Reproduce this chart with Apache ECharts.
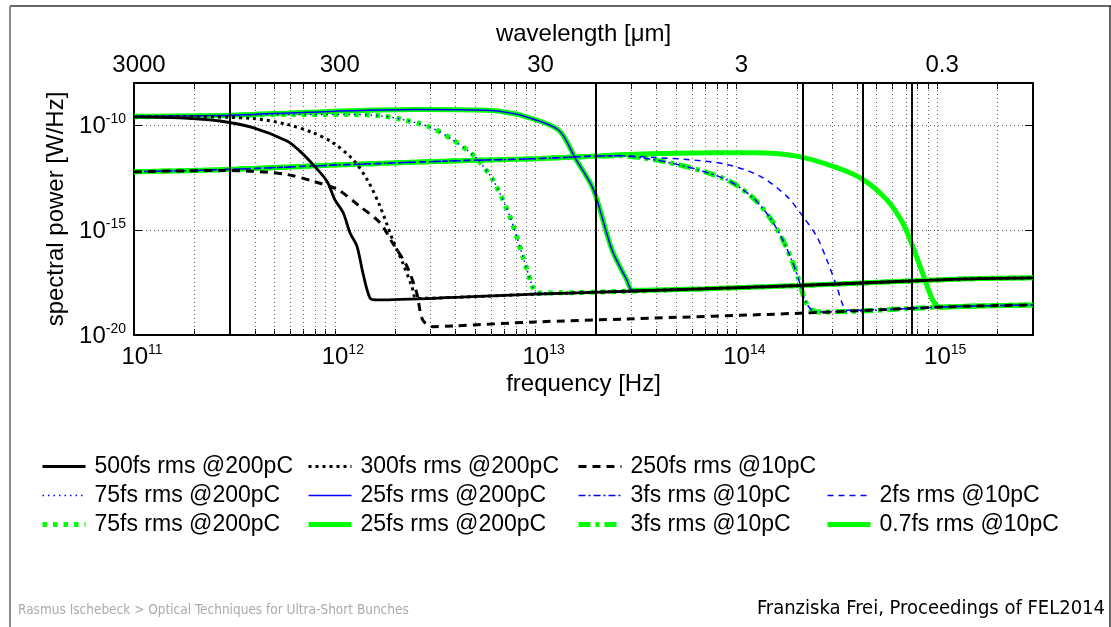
<!DOCTYPE html>
<html>
<head>
<meta charset="utf-8">
<title>spectral power</title>
<script src="https://cdn.jsdelivr.net/npm/echarts@6.0.0/dist/echarts.min.js"></script>
<style>
    html, body { margin: 0; padding: 0; background: #fff; }
    #main { width: 1111px; height: 627px; }
</style>
</head>
<body>
<div id="main"></div>
<script>
// frequency [Hz] , spectral power [W/Hz]
var floor200 = [[1.62e12, 4.7e-19], [4.2e12, 6.3e-19], [1e13, 8.8e-19], [2.62e13, 1.18e-18], [2.07e14, 2.27e-18], [1.29e15, 4.6e-18], [3e15, 5.3e-18]];
var floor10 = [[3.08e12, 2.5e-20], [3.87e12, 2.7e-20], [1e13, 4.2e-20], [2.84e13, 5.8e-20], [2.07e14, 1.09e-19], [1.19e15, 2.24e-19], [3e15, 2.7e-19]];
var common10 = [[1e11, 5.9e-13], [2.68e11, 7.4e-13], [1e12, 1.23e-12], [4.2e12, 2.0e-12], [1e13, 2.5e-12], [2.02e13, 3.3e-12]];

var fs500 = [[1e11, 2.45e-10], [1.69e11, 2.19e-10], [2.68e11, 1.55e-10], [3.91e11, 7.5e-11], [5.78e11, 1.72e-11], [6.7e11, 5.7e-12],
    [7.78e11, 1.32e-12], [9.14e11, 2.1e-13], [1e12, 2.8e-14], [1.1e12, 6.8e-15], [1.19e12, 7.4e-16], [1.29e12, 1.66e-16],
    [1.38e12, 9.1e-18], [1.5e12, 5.6e-19], [1.62e12, 4.7e-19]];
var fs300 = [[1e11, 2.5e-10], [2e11, 2.45e-10], [3.91e11, 2.03e-10], [5.78e11, 1.07e-10], [7.78e11, 4.3e-11], [9.78e11, 1.44e-11],
    [1.23e12, 2.3e-12], [1.45e12, 2.5e-13], [1.68e12, 1.35e-14], [1.94e12, 3.5e-16], [2.18e12, 2.7e-17], [2.42e12, 2.05e-18], [2.56e12, 5.5e-19]];
var fs250 = [[1e11, 5.9e-13], [2.68e11, 6.8e-13], [3.91e11, 6.3e-13], [5.78e11, 4.4e-13], [7.78e11, 2.1e-13], [1.03e12, 8.5e-14],
    [1.33e12, 1.35e-14], [1.68e12, 2.2e-15], [1.94e12, 2.4e-16], [2.29e12, 1.82e-17], [2.56e12, 9.8e-19], [2.74e12, 5.2e-20], [3.08e12, 2.5e-20]];
var fs75 = [[1e11, 2.45e-10], [3e11, 2.8e-10], [6e11, 3.2e-10], [1.2e12, 3.2e-10], [1.68e12, 2.75e-10], [2.13e12, 1.9e-10],
    [2.97e12, 8e-11], [3.8e12, 2.2e-11], [4.65e12, 5.5e-12], [5.1e12, 2.5e-12], [6.12e12, 2.5e-13], [7.44e12, 4.5e-15],
    [8.64e12, 5.5e-17], [9.7e12, 1.77e-18], [1.01e13, 1.0e-18]];
var fs25 = [[1e11, 2.6e-10], [3e11, 2.9e-10], [7.43e11, 4.1e-10], [2.54e12, 5.4e-10], [5.72e12, 5.0e-10], [7e12, 4.1e-10], [8.63e12, 2.75e-10],
    [1.3e13, 5.8e-11], [1.58e13, 2.5e-12], [1.88e13, 1.6e-13], [2.02e13, 2.8e-14], [2.4e13, 1.15e-16], [2.84e13, 4.3e-18], [3.05e13, 1.35e-18]];
var fs3 = [[2.62e13, 3.4e-12], [3.5e13, 2.6e-12], [4.8e13, 1.5e-12], [6.8e13, 6.3e-13], [9.26e13, 2.1e-13], [1.21e14, 3.4e-14],
    [1.47e14, 3.8e-15], [1.7e14, 3.5e-16], [1.91e14, 2.7e-17], [2.07e14, 2.95e-18], [2.19e14, 4.7e-19], [2.37e14, 1.55e-19], [2.6e14, 1.25e-19]];
var fs2 = [[2.62e13, 3.5e-12], [4e13, 2.8e-12], [5.66e13, 2.3e-12], [8.96e13, 1.32e-12], [1.31e14, 3.66e-13], [1.78e14, 4.1e-14],
    [2.14e14, 4.5e-15], [2.51e14, 5.0e-16], [2.82e14, 3.8e-17], [3.16e14, 2.05e-18], [3.39e14, 2.7e-19], [3.58e14, 1.5e-19]];
var fs07 = [[2.62e13, 3.8e-12], [5e13, 4.5e-12], [1.21e14, 4.8e-12], [2.0e14, 3.3e-12], [3.16e14, 9.3e-13], [4.26e14, 2.6e-13],
    [5.6e14, 2.8e-14], [6.73e14, 2.2e-15], [7.55e14, 1.66e-16], [8.46e14, 8.9e-18], [9.49e14, 4.7e-19], [1.03e15, 2.1e-19]];

// vertical marker lines [Hz]
var markerFreqs = [3e11, 2e13, 2.14e14, 4.28e14, 7.5e14];
// decades and 2..9 subdivisions for grid / ticks
var decadeFreqs = [1e11, 1e12, 1e13, 1e14, 1e15];
var gridFreqs = [];
for (var n = 0; n < 4; n++) {
    for (var k = 2; k <= 10; k++) gridFreqs.push(k * decadeFreqs[n]);
}
gridFreqs.push(2e15);

var FONT = '"Liberation Sans", Arial, Helvetica, sans-serif';

// attach the flat tail (incoherent floor) after the last point of the head
function withFloor(head, floor) {
    var last = head[head.length - 1][0];
    return head.concat(floor.filter(function (p) { return p[0] > last; }));
}

function line(name, data, color, width, type, z) {
    return {
        name: name, type: 'line', data: data, symbol: 'none', z: z, silent: true,
        smooth: 0.3,
        lineStyle: {color: color, width: width, type: type}, itemStyle: {color: color},
        emphasis: {disabled: true}
    };
}

function powLabel(value) {
    var e = Math.log10(value);
    var r = Math.round(e);
    if (Math.abs(e - r) > 1e-6) return '';
    return '{b|10}{s|' + r + '}';
}

function waveLabel(value) {
    var e = Math.log10(value);
    if (Math.abs(e - Math.round(e)) > 1e-6) return '';
    var lam = 3e14 / value; // um
    return String(parseFloat(lam.toPrecision(3)));
}

var supRich = {
    b: {fontSize: 24, fontFamily: FONT, color: '#000', lineHeight: 26, verticalAlign: 'bottom'},
    s: {fontSize: 14, fontFamily: FONT, color: '#000', lineHeight: 14, verticalAlign: 'top'}
};

var GREEN = '#00ff00', BLUE = '#0000ff', BLACK = '#000000';

var series = [
    line('75fs rms @200pC ', withFloor(fs75, floor200), GREEN, 5, [4.5, 6], 2),
    line('25fs rms @200pC ', withFloor(fs25, floor200), GREEN, 5, 'solid', 2),
    line('3fs rms @10pC ', withFloor(common10.concat(fs3), floor10), GREEN, 5, [12, 5, 4, 5], 2),
    line('0.7fs rms @10pC', withFloor(common10.concat(fs07), floor10), GREEN, 5, 'solid', 2),
    line('75fs rms @200pC', withFloor(fs75, floor200), BLUE, 1.5, [1.5, 4], 3),
    line('25fs rms @200pC', withFloor(fs25, floor200), BLUE, 1.5, 'solid', 3),
    line('3fs rms @10pC', withFloor(common10.concat(fs3), floor10), BLUE, 1.5, [7, 3, 2, 3], 3),
    line('2fs rms @10pC', withFloor(common10.concat(fs2), floor10), BLUE, 1.5, [6, 5], 3),
    line('500fs rms @200pC', withFloor(fs500, floor200), BLACK, 2.8, 'solid', 4),
    line('300fs rms @200pC', withFloor(fs300, floor200), BLACK, 3, [3, 4], 4),
    line('250fs rms @10pC', withFloor(fs250, floor10), BLACK, 3, [8, 6], 4)
];

// dotted vertical grid (under the curves)
series[0].markLine = {
    silent: true, symbol: ['none', 'none'], label: {show: false}, animation: false, z: 1,
    lineStyle: {color: '#666', width: 1, type: [1, 3]},
    data: gridFreqs.map(function (f) { return {xAxis: f}; })
};
// black marker lines (on top)
series[8].markLine = {
    silent: true, symbol: ['none', 'none'], label: {show: false}, animation: false, z: 10,
    lineStyle: {color: '#000', width: 2, type: 'solid'},
    data: markerFreqs.map(function (f) { return {xAxis: f}; })
};

function legendCol(items, left, top) {
    return {
        show: true, orient: 'vertical', left: left, top: top, padding: 0,
        itemGap: 6, itemWidth: 43, itemHeight: 14, selectedMode: false,
        lineStyle: {width: 'inherit'},
        itemStyle: {opacity: 0, borderWidth: 0},
        textStyle: {fontSize: 23, fontFamily: FONT, color: '#000', lineHeight: 23, padding: [0, 0, 0, 4]},
        data: items
    };
}

var axisLineStyle = {show: true, onZero: false, lineStyle: {color: '#000', width: 2}};
var tickStyle = {show: true, inside: true, length: 6, customValues: gridFreqs.concat(decadeFreqs), lineStyle: {color: '#000', width: 1}};

var option = {
    animation: false,
    backgroundColor: '#fff',
    grid: {left: 134, right: 78, top: 83, bottom: 292},
    legend: [
        legendCol(['500fs rms @200pC', '75fs rms @200pC', '75fs rms @200pC '], 40, 455),
        legendCol(['300fs rms @200pC', '25fs rms @200pC', '25fs rms @200pC '], 306, 455),
        legendCol(['250fs rms @10pC', '3fs rms @10pC', '3fs rms @10pC '], 576, 455),
        legendCol(['2fs rms @10pC', '0.7fs rms @10pC'], 825, 484)
    ],
    xAxis: [
        {
            type: 'log', logBase: 10, position: 'bottom', min: 1e11, max: 3e15,
            axisLine: axisLineStyle, axisTick: tickStyle,
            axisLabel: {formatter: powLabel, rich: supRich, margin: 8, showMaxLabel: false, padding: [0, 0, 0, 16]},
            splitLine: {show: false},
            name: 'frequency [Hz]', nameLocation: 'middle', nameGap: 37,
            nameTextStyle: {fontSize: 24, fontFamily: FONT, color: '#000'}
        },
        {
            type: 'log', logBase: 10, position: 'top', min: 1e11, max: 3e15,
            axisLine: axisLineStyle, axisTick: tickStyle,
            axisLabel: {formatter: waveLabel, fontSize: 24, fontFamily: FONT, color: '#000', margin: 6, showMaxLabel: false, padding: [0, 0, 0, 10]},
            splitLine: {show: false},
            name: 'wavelength [μm]', nameLocation: 'middle', nameGap: 37,
            nameTextStyle: {fontSize: 24, fontFamily: FONT, color: '#000'}
        }
    ],
    yAxis: [
        {
            type: 'log', logBase: 10, min: 1e-20, max: 1e-8, interval: 5,
            axisLine: axisLineStyle,
            axisTick: {show: true, inside: true, length: 8, lineStyle: {color: '#000', width: 1}},
            axisLabel: {formatter: powLabel, rich: supRich, margin: 8, showMaxLabel: false},
            splitLine: {show: true, lineStyle: {color: '#666', width: 1, type: [1, 3]}},
            name: 'spectral power [W/Hz]', nameLocation: 'middle', nameGap: 60, nameRotate: 90,
            nameTextStyle: {fontSize: 24, fontFamily: FONT, color: '#000'}
        },
        {
            type: 'log', logBase: 10, position: 'right', min: 1e-20, max: 1e-8, interval: 5,
            axisLine: axisLineStyle,
            axisTick: {show: true, inside: true, length: 8, lineStyle: {color: '#000', width: 1}},
            axisLabel: {show: false},
            splitLine: {show: false}
        }
    ],
    graphic: [
        {type: 'line', silent: true, shape: {x1: 10, y1: 6, x2: 1111, y2: 6}, style: {stroke: '#333', lineWidth: 1.5}},
        {type: 'line', silent: true, shape: {x1: 10, y1: 6, x2: 10, y2: 627}, style: {stroke: '#888', lineWidth: 2}},
        {type: 'line', silent: true, shape: {x1: 1110, y1: 6, x2: 1110, y2: 627}, style: {stroke: '#333', lineWidth: 1.5}},
        {type: 'text', silent: true, left: 18, top: 603,
            style: {text: 'Rasmus Ischebeck > Optical Techniques for Ultra-Short Bunches', font: '13.5px "DejaVu Sans Condensed", "DejaVu Sans"', fill: '#aaa'}},
        {type: 'text', silent: true, right: 6, top: 599,
            style: {text: 'Franziska Frei, Proceedings of FEL2014', font: '20px "DejaVu Sans Condensed", "DejaVu Sans"', fill: '#000'}}
    ],
    series: series
};

var myChart = echarts.init(document.getElementById('main'));
myChart.setOption(option);
</script>
</body>
</html>
